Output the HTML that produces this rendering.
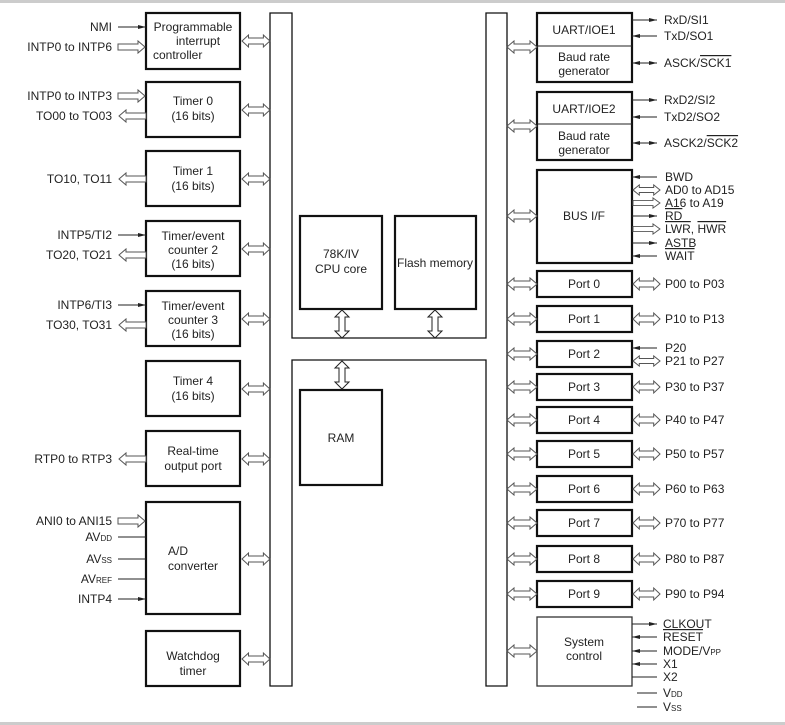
<!DOCTYPE html>
<html><head><meta charset="utf-8"><style>
html,body{margin:0;padding:0;background:#fff;}
svg{display:block;font-family:"Liberation Sans",Arial,sans-serif;font-size:12px;fill:#222;}
</style></head><body>
<svg width="785" height="725" viewBox="0 0 785 725" xmlns="http://www.w3.org/2000/svg">
<defs>
<path id="da" d="M0,0 L7,-6 L7,-3 L23,-3 L23,-6 L30,0 L23,6 L23,3 L7,3 L7,6 Z" fill="#fff" stroke="#555" stroke-width="1" vector-effect="non-scaling-stroke"/>
<path id="ra" d="M0,-3 L20,-3 L20,-6 L27,0 L20,6 L20,3 L0,3 Z" fill="#fff" stroke="#555" stroke-width="1"/>
<path id="dv" d="M0,0 L-7,7 L-3,7 L-3,21 L-7,21 L0,28 L7,21 L3,21 L3,7 L7,7 Z" fill="#fff" stroke="#222" stroke-width="1"/>
<marker id="ah" markerWidth="8" markerHeight="6" refX="8" refY="3" orient="auto" markerUnits="userSpaceOnUse"><path d="M0,1 L8,3 L0,5 Z" fill="#222"/></marker>
</defs>
<rect x="0" y="0" width="785" height="3" fill="#ccc"/>
<rect x="0" y="722" width="785" height="3" fill="#ccc"/>
<g fill="none" stroke="#111" stroke-width="1.3">
<path d="M270,13 L292,13 L292,338 L486,338 L486,13 L507,13 L507,686 L486,686 L486,360 L292,360 L292,686 L270,686 Z"/>
</g>
<g fill="#fff" stroke="#111" stroke-width="2.2">
<rect x="146" y="13" width="94" height="56"/>
<rect x="146" y="82" width="94" height="55"/>
<rect x="146" y="151" width="94" height="55"/>
<rect x="146" y="221" width="94" height="55"/>
<rect x="146" y="291" width="94" height="55"/>
<rect x="146" y="361" width="94" height="55"/>
<rect x="146" y="431" width="94" height="55"/>
<rect x="146" y="502" width="94" height="112"/>
<rect x="146" y="631" width="94" height="55"/>
<rect x="300" y="216" width="82" height="93"/>
<rect x="395" y="216" width="81" height="93"/>
<rect x="300" y="390" width="82" height="95"/>
<rect x="537" y="13" width="95" height="69"/>
<rect x="537" y="92" width="95" height="68"/>
<rect x="537" y="170" width="95" height="93"/>
<rect x="537" y="271" width="95" height="26"/>
<rect x="537" y="306" width="95" height="26"/>
<rect x="537" y="341" width="95" height="26"/>
<rect x="537" y="374" width="95" height="26"/>
<rect x="537" y="407" width="95" height="26"/>
<rect x="537" y="441" width="95" height="26"/>
<rect x="537" y="476" width="95" height="26"/>
<rect x="537" y="510" width="95" height="26"/>
<rect x="537" y="546" width="95" height="26"/>
<rect x="537" y="581" width="95" height="26"/>
</g>
<rect x="537" y="617" width="95" height="69" fill="#fff" stroke="#333" stroke-width="1.3"/>
<line x1="537" y1="46" x2="632" y2="46" stroke="#222"/>
<line x1="537" y1="124" x2="632" y2="124" stroke="#222"/>

<!-- left bus double arrows -->
<g>
<use href="#da" transform="translate(242,41) scale(0.93,1)"/>
<use href="#da" transform="translate(242,110) scale(0.93,1)"/>
<use href="#da" transform="translate(242,179) scale(0.93,1)"/>
<use href="#da" transform="translate(242,249) scale(0.93,1)"/>
<use href="#da" transform="translate(242,319) scale(0.93,1)"/>
<use href="#da" transform="translate(242,389) scale(0.93,1)"/>
<use href="#da" transform="translate(242,459) scale(0.93,1)"/>
<use href="#da" transform="translate(242,559) scale(0.93,1)"/>
<use href="#da" transform="translate(242,659) scale(0.93,1)"/>
<!-- right bus -->
<use href="#da" transform="translate(507,47)"/>
<use href="#da" transform="translate(507,126)"/>
<use href="#da" transform="translate(507,216)"/>
<use href="#da" transform="translate(507,284)"/>
<use href="#da" transform="translate(507,319)"/>
<use href="#da" transform="translate(507,354)"/>
<use href="#da" transform="translate(507,387)"/>
<use href="#da" transform="translate(507,420)"/>
<use href="#da" transform="translate(507,454)"/>
<use href="#da" transform="translate(507,489)"/>
<use href="#da" transform="translate(507,523)"/>
<use href="#da" transform="translate(507,559)"/>
<use href="#da" transform="translate(507,594)"/>
<use href="#da" transform="translate(507,651)"/>
<!-- port side -->
<use href="#da" transform="translate(633,284) scale(0.9,1)"/>
<use href="#da" transform="translate(633,319) scale(0.9,1)"/>
<use href="#da" transform="translate(633,361) scale(0.9,0.85)"/>
<use href="#da" transform="translate(633,387) scale(0.9,1)"/>
<use href="#da" transform="translate(633,420) scale(0.9,1)"/>
<use href="#da" transform="translate(633,454) scale(0.9,1)"/>
<use href="#da" transform="translate(633,489) scale(0.9,1)"/>
<use href="#da" transform="translate(633,523) scale(0.9,1)"/>
<use href="#da" transform="translate(633,559) scale(0.9,1)"/>
<use href="#da" transform="translate(633,594) scale(0.9,1)"/>
<use href="#da" transform="translate(633,190) scale(0.9,0.85)"/>
<!-- vertical -->
<use href="#dv" transform="translate(342,310)"/>
<use href="#dv" transform="translate(435,310)"/>
<use href="#dv" transform="translate(342,361)"/>
<!-- single hollow arrows -->
<use href="#ra" transform="translate(118,47)"/>
<use href="#ra" transform="translate(118,96)"/>
<use href="#ra" transform="translate(146,116) scale(-1,1)"/>
<use href="#ra" transform="translate(146,179) scale(-1,1)"/>
<use href="#ra" transform="translate(146,255) scale(-1,1)"/>
<use href="#ra" transform="translate(146,325) scale(-1,1)"/>
<use href="#ra" transform="translate(146,459) scale(-1,1)"/>
<use href="#ra" transform="translate(118,521)"/>
<use href="#ra" transform="translate(633,203) scale(1,0.85)"/>
<use href="#ra" transform="translate(633,229) scale(1,0.85)"/>
</g>

<g stroke="#222" stroke-width="1" fill="none">
<line x1="118" y1="27" x2="146" y2="27" marker-end="url(#ah)"/>
<line x1="118" y1="235" x2="146" y2="235" marker-end="url(#ah)"/>
<line x1="118" y1="305" x2="146" y2="305" marker-end="url(#ah)"/>
<line x1="118" y1="537" x2="146" y2="537"/>
<line x1="118" y1="559" x2="146" y2="559"/>
<line x1="118" y1="579" x2="146" y2="579"/>
<line x1="118" y1="599" x2="146" y2="599" marker-end="url(#ah)"/>
<line x1="632" y1="20" x2="657" y2="20" marker-end="url(#ah)"/>
<line x1="657" y1="36" x2="632" y2="36" marker-end="url(#ah)"/>
<line x1="632" y1="63" x2="657" y2="63" marker-end="url(#ah)"/>
<line x1="657" y1="63" x2="632" y2="63" marker-end="url(#ah)"/>
<line x1="632" y1="100" x2="657" y2="100" marker-end="url(#ah)"/>
<line x1="657" y1="117" x2="632" y2="117" marker-end="url(#ah)"/>
<line x1="632" y1="143" x2="657" y2="143" marker-end="url(#ah)"/>
<line x1="657" y1="143" x2="632" y2="143" marker-end="url(#ah)"/>
<line x1="657" y1="177" x2="632" y2="177" marker-end="url(#ah)"/>
<line x1="632" y1="216" x2="657" y2="216" marker-end="url(#ah)"/>
<line x1="632" y1="243" x2="657" y2="243" marker-end="url(#ah)"/>
<line x1="657" y1="256" x2="632" y2="256" marker-end="url(#ah)"/>
<line x1="657" y1="348" x2="632" y2="348" marker-end="url(#ah)"/>
<line x1="632" y1="624" x2="657" y2="624" marker-end="url(#ah)"/>
<line x1="657" y1="637" x2="632" y2="637" marker-end="url(#ah)"/>
<line x1="657" y1="651" x2="632" y2="651" marker-end="url(#ah)"/>
<line x1="657" y1="664" x2="632" y2="664" marker-end="url(#ah)"/>
<line x1="632" y1="677" x2="657" y2="677"/>
<line x1="637" y1="693" x2="657" y2="693"/>
<line x1="637" y1="707" x2="657" y2="707"/>
</g>

<g text-anchor="end">
<text x="112" y="31">NMI</text>
<text x="112" y="51">INTP0 to INTP6</text>
<text x="112" y="100">INTP0 to INTP3</text>
<text x="112" y="120">TO00 to TO03</text>
<text x="112" y="183">TO10, TO11</text>
<text x="112" y="239">INTP5/TI2</text>
<text x="112" y="259">TO20, TO21</text>
<text x="112" y="309">INTP6/TI3</text>
<text x="112" y="329">TO30, TO31</text>
<text x="112" y="463">RTP0 to RTP3</text>
<text x="112" y="525">ANI0 to ANI15</text>
<text x="112" y="541">AV<tspan font-size="8">DD</tspan></text>
<text x="112" y="563">AV<tspan font-size="8">SS</tspan></text>
<text x="112" y="583">AV<tspan font-size="8">REF</tspan></text>
<text x="112" y="603">INTP4</text>
</g>
<g text-anchor="middle">
<text x="193" y="31">Programmable</text>
<text x="176" y="45" text-anchor="start" x="153">interrupt</text>
<text x="193" y="105">Timer 0</text><text x="193" y="120">(16 bits)</text>
<text x="193" y="175">Timer 1</text><text x="193" y="190">(16 bits)</text>
<text x="193" y="240">Timer/event</text><text x="193" y="254">counter 2</text><text x="193" y="268">(16 bits)</text>
<text x="193" y="310">Timer/event</text><text x="193" y="324">counter 3</text><text x="193" y="338">(16 bits)</text>
<text x="193" y="385">Timer 4</text><text x="193" y="400">(16 bits)</text>
<text x="193" y="455">Real-time</text><text x="193" y="470">output port</text>
<text x="193" y="660">Watchdog</text><text x="193" y="675">timer</text>
<text x="341" y="258">78K/IV</text><text x="341" y="273">CPU core</text>
<text x="435" y="267">Flash memory</text>
<text x="341" y="442">RAM</text>
<text x="584" y="34">UART/IOE1</text>
<text x="584" y="61">Baud rate</text><text x="584" y="75">generator</text>
<text x="584" y="113">UART/IOE2</text>
<text x="584" y="140">Baud rate</text><text x="584" y="154">generator</text>
<text x="584" y="220">BUS I/F</text>
<text x="584" y="288">Port 0</text>
<text x="584" y="323">Port 1</text>
<text x="584" y="358">Port 2</text>
<text x="584" y="391">Port 3</text>
<text x="584" y="424">Port 4</text>
<text x="584" y="458">Port 5</text>
<text x="584" y="493">Port 6</text>
<text x="584" y="527">Port 7</text>
<text x="584" y="563">Port 8</text>
<text x="584" y="598">Port 9</text>
<text x="584" y="646">System</text><text x="584" y="660">control</text>
</g>
<g>
<text x="153" y="59">controller</text>
<text x="168" y="555">A/D</text><text x="168" y="570">converter</text>
<text x="664" y="24">RxD/SI1</text>
<text x="664" y="40">TxD/SO1</text>
<text x="664" y="67">ASCK/<tspan text-decoration="overline">SCK1</tspan></text>
<text x="664" y="104">RxD2/SI2</text>
<text x="664" y="121">TxD2/SO2</text>
<text x="664" y="147">ASCK2/<tspan text-decoration="overline">SCK2</tspan></text>
<text x="665" y="181">BWD</text>
<text x="665" y="194">AD0 to AD15</text>
<text x="665" y="207">A16 to A19</text>
<text x="665" y="220" text-decoration="overline">RD</text>
<text x="665" y="233"><tspan text-decoration="overline">LWR</tspan>, <tspan text-decoration="overline">HWR</tspan></text>
<text x="665" y="247">ASTB</text>
<text x="665" y="260" text-decoration="overline">WAIT</text>
<text x="665" y="288">P00 to P03</text>
<text x="665" y="323">P10 to P13</text>
<text x="665" y="352">P20</text>
<text x="665" y="365">P21 to P27</text>
<text x="665" y="391">P30 to P37</text>
<text x="665" y="424">P40 to P47</text>
<text x="665" y="458">P50 to P57</text>
<text x="665" y="493">P60 to P63</text>
<text x="665" y="527">P70 to P77</text>
<text x="665" y="563">P80 to P87</text>
<text x="665" y="598">P90 to P94</text>
<text x="663" y="628">CLKOUT</text>
<text x="663" y="641" text-decoration="overline">RESET</text>
<text x="663" y="655">MODE/V<tspan font-size="8">PP</tspan></text>
<text x="663" y="668">X1</text>
<text x="663" y="681">X2</text>
<text x="663" y="697">V<tspan font-size="8">DD</tspan></text>
<text x="663" y="711">V<tspan font-size="8">SS</tspan></text>
</g>
</svg>
</body></html>
